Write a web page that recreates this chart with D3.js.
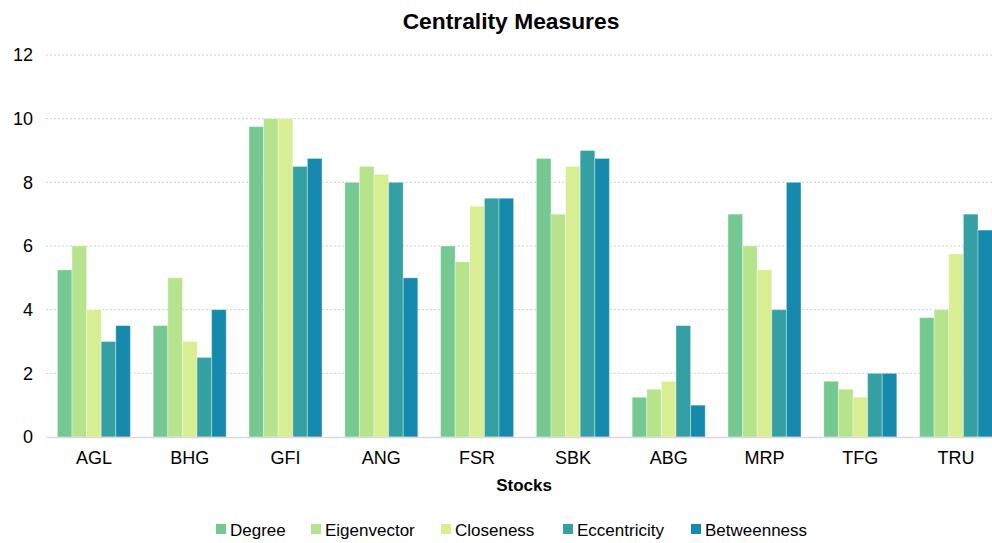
<!DOCTYPE html>
<html><head><meta charset="utf-8">
<script src="https://cdn.jsdelivr.net/npm/d3@7"></script>
<style>body{margin:0;background:#fff;overflow:hidden}svg{display:block;font-family:"Liberation Sans",Arial,sans-serif}</style>
</head><body><svg id="c" width="992" height="543"></svg>
<script>
const categories = ["AGL","BHG","GFI","ANG","FSR","SBK","ABG","MRP","TFG","TRU"];
const seriesNames = ["Degree","Eigenvector","Closeness","Eccentricity","Betweenness"];
const degree       = [5.25, 3.5, 9.75, 8,    6,    8.75, 1.25, 7,    1.75, 3.75];
const eigenvector  = [6,    5,   10,   8.5,  5.5,  7,    1.5,  6,    1.5,  4];
const closeness    = [4,    3,   10,   8.25, 7.25, 8.5,  1.75, 5.25, 1.25, 5.75];
const eccentricity = [3,    2.5, 8.5,  8,    7.5,  9,    3.5,  4,    2,    7];
const betweenness  = [3.5,  4,   8.75, 5,    7.5,  8.75, 1,    8,    2,    6.5];
const yTicks = [0,2,4,6,8,10,12];
const colors = ["#76C893","#B5E48C","#D9ED92","#34A0A4","#168AAD"];
const series = [degree, eigenvector, closeness, eccentricity, betweenness];

const svg = d3.select("#c");
const x0 = d3.scaleBand().domain(categories).range([46,1004]).paddingInner(0.238).paddingOuter(0.119);
const x1 = d3.scaleBand().domain(seriesNames).range([0, x0.bandwidth()]);
const y = d3.scaleLinear().domain([0,12]).range([437,55]);

// gridlines
svg.append("g").selectAll("line").data(yTicks.filter(t=>t>0)).join("line")
  .attr("x1",46).attr("x2",1004).attr("y1",d=>y(d)).attr("y2",d=>y(d))
  .attr("stroke","#d0d0d0").attr("stroke-width",1).attr("stroke-dasharray","2,2");

// y axis labels
const ya = svg.append("g").attr("transform","translate(33,0)")
  .call(d3.axisLeft(y).tickValues(yTicks).tickSize(0).tickPadding(0));
ya.select(".domain").remove();
ya.selectAll("text").attr("font-size",18).attr("fill","#000").attr("font-family","Liberation Sans, Arial, sans-serif");

// bars
const groups = svg.append("g").selectAll("g").data(categories).join("g")
  .attr("transform",c=>`translate(${x0(c)},0)`);
groups.selectAll("rect").data((c,i)=>seriesNames.map((s,j)=>({s, v: series[j][i], j}))).join("rect")
  .attr("x",d=>x1(d.s)).attr("width",x1.bandwidth())
  .attr("y",d=>y(d.v)).attr("height",d=>y(0)-y(d.v))
  .attr("fill",d=>colors[d.j]).attr("stroke","rgba(255,255,255,0.35)").attr("stroke-width",1);

// x axis
const xa = svg.append("g").attr("transform",`translate(0,${y(0)})`)
  .call(d3.axisBottom(x0).tickSize(0).tickPadding(14));
xa.select(".domain").attr("stroke","#d9d9d9").attr("stroke-width",1.5);
xa.selectAll("text").attr("font-size",18).attr("fill","#000").attr("font-family","Liberation Sans, Arial, sans-serif");

// axis title
svg.append("text").attr("x",524).attr("y",491).attr("text-anchor","middle")
  .attr("font-weight","bold").attr("font-size",17).text("Stocks");

// title
svg.append("text").attr("x",511).attr("y",29).attr("text-anchor","middle")
  .attr("font-weight","bold").attr("font-size",22.8).text("Centrality Measures");

// legend
const legX = [216, 311, 441, 563, 691];
const leg = svg.append("g").selectAll("g").data(seriesNames).join("g")
  .attr("transform",(d,i)=>`translate(${legX[i]},529)`);
leg.append("rect").attr("x",0).attr("y",-5).attr("width",10).attr("height",10).attr("fill",(d,i)=>colors[i]);
leg.append("text").attr("x",14).attr("y",7).attr("font-size",17).text(d=>d);
</script></body></html>
